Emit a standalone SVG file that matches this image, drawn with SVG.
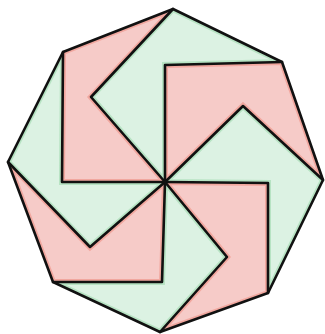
<svg xmlns="http://www.w3.org/2000/svg" xmlns:xlink="http://www.w3.org/1999/xlink" width="325" height="334" viewBox="0 0 325 334">
<style>
.r{fill:#f6cbc8}
.g{fill:#dcf2e3}
.rs{fill:none;stroke:#ef8f84;stroke-width:6;opacity:0.6}
.gs{fill:none;stroke:#9fd8ae;stroke-width:6;opacity:0.6}
.ln{fill:none;stroke:#111;stroke-width:2.6;stroke-linejoin:round;stroke-linecap:round}
</style>
<defs>
<polygon id="p1" points="63,52 173,9 91,97 165,182 62,182"/>
<polygon id="p2" points="173,9 282,62 165,65 165,182 91,97"/>
<polygon id="p3" points="165,65 282,62 323,180 243,106 165,182"/>
<polygon id="p4" points="323,180 268,293 268,183 165,182 243,106"/>
<polygon id="p5" points="268,183 268,293 160,332 227,257 165,182"/>
<polygon id="p6" points="160,332 53,282 162,282 165,182 227,257"/>
<polygon id="p7" points="53,282 8,162 90,247 165,182 162,282"/>
<polygon id="p8" points="8,162 63,52 62,182 165,182 90,247"/>
<clipPath id="c1"><use xlink:href="#p1"/></clipPath>
<clipPath id="c2"><use xlink:href="#p2"/></clipPath>
<clipPath id="c3"><use xlink:href="#p3"/></clipPath>
<clipPath id="c4"><use xlink:href="#p4"/></clipPath>
<clipPath id="c5"><use xlink:href="#p5"/></clipPath>
<clipPath id="c6"><use xlink:href="#p6"/></clipPath>
<clipPath id="c7"><use xlink:href="#p7"/></clipPath>
<clipPath id="c8"><use xlink:href="#p8"/></clipPath>
</defs>
<rect width="325" height="334" fill="#fff"/>
<g id="piece1"><use xlink:href="#p1" class="r"/><use xlink:href="#p1" class="rs" clip-path="url(#c1)"/></g>
<g id="piece2"><use xlink:href="#p2" class="g"/><use xlink:href="#p2" class="gs" clip-path="url(#c2)"/></g>
<g id="piece3"><use xlink:href="#p3" class="r"/><use xlink:href="#p3" class="rs" clip-path="url(#c3)"/></g>
<g id="piece4"><use xlink:href="#p4" class="g"/><use xlink:href="#p4" class="gs" clip-path="url(#c4)"/></g>
<g id="piece5"><use xlink:href="#p5" class="r"/><use xlink:href="#p5" class="rs" clip-path="url(#c5)"/></g>
<g id="piece6"><use xlink:href="#p6" class="g"/><use xlink:href="#p6" class="gs" clip-path="url(#c6)"/></g>
<g id="piece7"><use xlink:href="#p7" class="r"/><use xlink:href="#p7" class="rs" clip-path="url(#c7)"/></g>
<g id="piece8"><use xlink:href="#p8" class="g"/><use xlink:href="#p8" class="gs" clip-path="url(#c8)"/></g>
<g id="lines">
<polygon class="ln" points="173,9 282,62 323,180 268,293 160,332 53,282 8,162 63,52"/>
<polyline class="ln" points="173,9 91,97 165,182"/>
<polyline class="ln" points="282,62 165,65 165,182"/>
<polyline class="ln" points="323,180 243,106 165,182"/>
<polyline class="ln" points="268,293 268,183 165,182"/>
<polyline class="ln" points="160,332 227,257 165,182"/>
<polyline class="ln" points="53,282 162,282 165,182"/>
<polyline class="ln" points="8,162 90,247 165,182"/>
<polyline class="ln" points="63,52 62,182 165,182"/>
</g>
</svg>
